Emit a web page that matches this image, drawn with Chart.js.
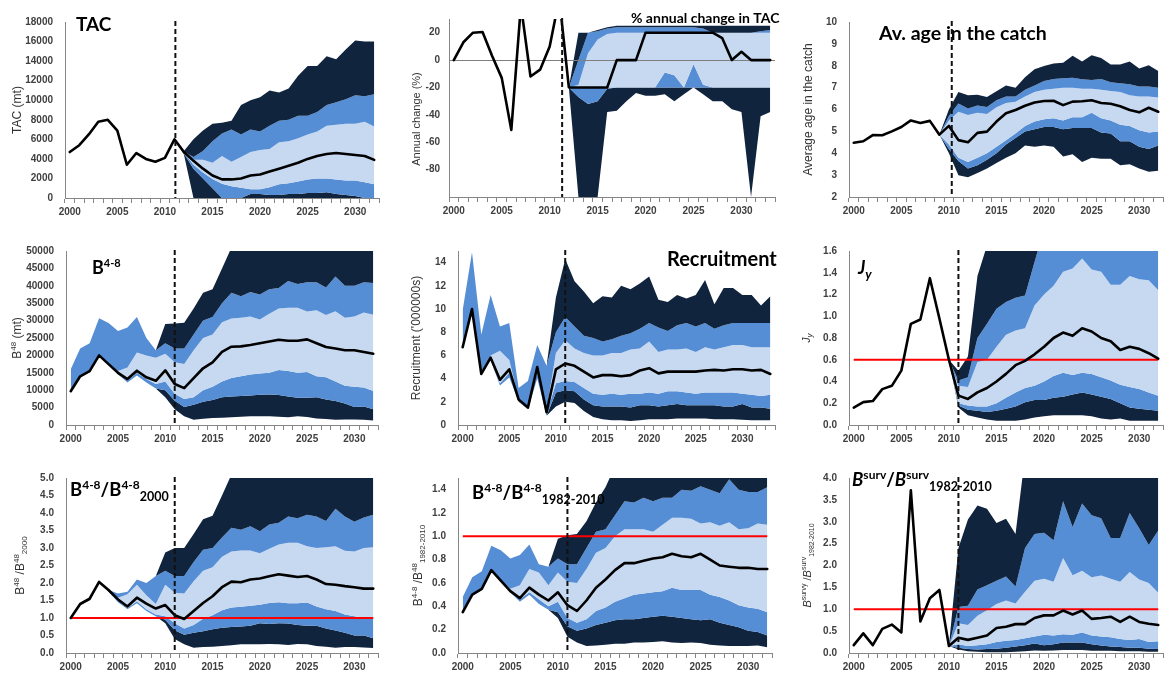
<!DOCTYPE html>
<html><head><meta charset="utf-8">
<script src="https://cdn.jsdelivr.net/npm/chart.js@4/dist/chart.umd.min.js"></script>
<style>
html,body{margin:0;padding:0;background:#fff;}
body{width:1165px;height:678px;position:relative;overflow:hidden;}
canvas{position:absolute;}
</style></head><body>
<script>
// ---------- categories ----------
const years33 = Array.from({length:33},(_,i)=>2000+i); // 2000-2032
const years34 = Array.from({length:34},(_,i)=>2000+i); // 2000-2033

// ---------- TAC ----------
const tacLine = [4700,5400,6500,7800,8000,6900,3400,4600,4000,3700,4100,6000,4700,3800,3000,2300,1900,1900,2000,2300,2400,2700,3000,3300,3600,4000,4300,4500,4600,4500,4400,4300,3900];
const tacStart = 2011;
const tacP95 = [6000,4800,6000,6900,7600,7700,7900,9500,10000,10300,11000,10800,11200,12500,13500,13500,14500,14200,15200,16100,16000,16000];
const tacP90 = [6000,4750,4200,4800,5800,6600,7000,6500,7000,6800,7400,7900,8000,8400,8400,8800,9500,9800,10100,10500,10400,10600];
const tacP75 = [6000,4720,3900,3900,3600,4300,3700,4200,4700,4900,5000,5700,5800,6100,6500,6800,7400,7500,7600,7600,7800,7300];
const tacP25 = [6000,4650,3400,2600,1950,1450,1200,1050,900,900,1100,1400,1500,1700,1900,2000,2000,1900,1800,1800,1600,1400];
const tacP10 = [6000,4550,3000,2000,1000,0,0,0,400,400,300,300,400,400,500,500,600,400,300,200,0,0];
const tacP5  = [6000,4450,0,0,0,0,0,0,0,0,0,0,0,0,0,0,0,0,0,0,0,0];
const tacTicks = [0,2000,4000,6000,8000,10000,12000,14000,16000,18000];

// ---------- % annual change in TAC ----------
const chgLine = [0,13,20,20.5,3,-13,-51,40,-12,-7,10,45,-20,-20,-20,-20,-20,0,0,0,20,20,20,20,20,20,20,20,16,0,6,0,0,0];
const chgStart = 2012;
const chgP95 = [-20,20,20,22,24,25,25,25,25,25,25,25,25,25,25,25,25,25,25,25,25,25];
const chgP90 = [-20,0,20,21,23,24,24,24,24,24,24,24,24,24,23,20,20,20,20,20,21,22];
const chgP75 = [-20,-18,5,15,19,20,20,20,20,20,20,20,20,20,20,20,20,20,20,20,20,20];
const chgP25 = [-20,-20,-20,-20,-20,-20,-20,-20,-20,-20,-9,-11,-20,-3,-18,-20,-20,-20,-20,-20,-20,-20];
const chgP10 = [-20,-27,-32,-30,-21,-20,-20,-20,-20,-20,-20,-20,-20,-20,-20,-20,-20,-20,-20,-20,-20,-20];
const chgP5  = [-20,-100,-100,-100,-38,-37,-30,-24,-26,-26,-25,-30,-25,-20,-25,-30,-30,-36,-38,-100,-41,-38];
const chgTicks = [-80,-60,-40,-20,0,20];

// ---------- Average age in the catch ----------
const ageLine = [4.48,4.55,4.83,4.82,5.0,5.2,5.5,5.38,5.48,4.85,5.25,4.6,4.5,4.93,4.99,5.45,5.83,5.98,6.17,6.32,6.39,6.4,6.2,6.36,6.38,6.42,6.3,6.26,6.15,5.98,5.87,6.08,5.9];
const ageStart = 2009;
const ageP95 = [4.85,6.0,6.8,6.65,6.68,6.57,6.83,7.1,7.0,7.47,7.84,7.99,8.1,8.14,8.46,8.2,8.48,8.36,8.06,8.06,8.2,7.87,8.02,7.76];
const ageP90 = [4.85,5.7,6.27,6.05,6.18,6.12,6.42,6.6,6.6,6.9,7.1,7.3,7.4,7.43,7.45,7.38,7.35,7.4,7.25,7.2,7.15,7.05,7.05,7.0];
const ageP75 = [4.85,5.5,5.9,5.75,5.85,5.8,6.1,6.3,6.35,6.6,6.8,6.9,6.95,7.0,7.0,6.95,6.95,6.9,6.85,6.8,6.65,6.6,6.6,6.55];
const ageP25 = [4.85,4.4,3.8,3.6,3.8,4.0,4.3,4.6,4.9,5.25,5.45,5.55,5.6,5.5,5.65,5.65,5.85,5.6,5.5,5.3,5.25,5.05,4.95,5.0];
const ageP10 = [4.85,4.2,3.65,3.3,3.45,3.7,4.0,4.4,4.7,5.0,5.1,5.2,5.2,5.1,5.15,5.15,5.15,4.95,4.9,4.55,4.55,4.3,4.2,4.35];
const ageP5  = [4.85,4.0,3.0,2.9,3.1,3.3,3.55,3.8,4.0,4.35,4.3,4.35,4.3,3.85,3.95,3.6,3.8,3.75,3.75,3.45,3.5,3.3,3.15,3.2];
const ageTicks = [2,3,4,5,6,7,8,9,10];

// ---------- B4-8 ----------
const bLine = [9700,14000,15500,20000,17500,15000,13200,15600,13700,12700,15700,11800,10600,13500,16300,18000,21000,22500,22600,23000,23500,24000,24500,24200,24200,24600,23500,22400,22000,21500,21500,21000,20500];
const bDarkStart = 2009;
const bP95 = [21500,29000,29200,29400,33500,38000,39000,45000,51000,51000,51000,51000,51000,51000,51000,51000,51000,51000,51000,51000,51000,51000,51000,51000];
const bP90 = [16000,22000,23500,30700,29300,27000,28000,31000,25000,21500,23500,22000,22000,26000,30000,31000,35000,38000,37000,38200,37500,39000,39400,41400,40500,41000,41000,39500,42700,40000,40000,41000,40800];
const bP75 = [9700,14000,15500,20000,17500,15500,16500,20800,20000,19300,20500,18000,17500,21500,25000,26000,29500,30600,30800,31200,30300,32000,33500,33700,33700,32600,33000,31600,32700,30800,31200,32300,31700];
const bP25 = [9700,14000,15500,20000,17500,14800,12800,15000,13200,11800,12500,9000,7500,8000,10000,11000,12500,13500,14000,14500,14800,15000,15800,15500,15000,15200,14000,13700,12500,11300,11000,10800,9800];
const bP10 = [9700,13800,15200,19800,17300,14600,12200,14200,12200,10500,10000,7000,5200,5800,6700,7200,8000,8200,8300,8500,8700,8800,8600,8200,7800,7800,8000,7300,6900,6200,5200,5300,4500];
const bP5  = [10500,8000,4500,2500,1500,1800,2000,2100,2200,2400,2500,2500,2500,2400,2200,2500,2300,1900,1700,1500,1600,1600,1500,1300];
const bTicks = [0,5000,10000,15000,20000,25000,30000,35000,40000,45000,50000];

// ---------- Recruitment ----------
const recLine = [6.7,10,4.4,5.8,3.9,4.8,2.2,1.5,5,1.1,4.8,5.3,5.1,4.6,4.1,4.3,4.3,4.2,4.3,4.7,4.9,4.45,4.6,4.6,4.6,4.6,4.7,4.75,4.7,4.8,4.8,4.7,4.75,4.4];
const recDarkStart = 2009;
const recP95 = [5.1,11,14.3,12.4,11.5,10.5,11.1,11,12,11.7,12.2,12.8,10.8,10.6,11.2,10.9,11.2,12.5,10.4,11.8,11.8,11.2,11.2,10.3,11.1];
const recP90 = [9.9,14.9,7.8,11.2,8.5,8.8,3.2,3.8,6.9,5.1,8,9.3,8.5,7.7,7.5,7.2,7.4,7.7,7.9,8.3,8.8,8.4,8.1,8.6,8.8,8.5,8.8,8.3,8.6,8.8,8.8,8.8,8.8,8.8];
const recP75 = [6.7,10,4.4,6.0,6.4,5.6,2.3,1.6,5.1,1.3,6.2,7.3,6.6,6.2,6.0,6.0,6.2,6.2,6.5,6.6,7.2,6.3,6.5,6.5,6.6,6.3,6.7,6.5,6.7,6.9,6.9,6.7,6.7,6.7];
const recP25 = [6.7,10,4.4,5.7,3.6,4.5,2.1,1.4,4.6,1.0,3.6,3.8,3.7,3.2,2.7,2.6,2.7,2.6,2.7,2.7,2.8,2.7,2.9,2.9,2.8,2.7,2.8,2.8,2.8,2.8,2.7,2.6,2.5,2.6];
const recP10 = [6.7,10,4.3,5.6,3.4,4.1,2.0,1.35,4.0,0.8,2.8,3.0,2.9,2.2,1.7,1.6,1.6,1.6,1.5,1.7,1.7,1.6,1.7,1.8,1.7,1.7,1.7,1.7,1.6,1.6,1.8,1.5,1.5,1.4];
const recP5  = [0.8,1.6,2.0,1.9,1.2,0.7,0.5,0.4,0.4,0.35,0.4,0.5,0.5,0.5,0.55,0.55,0.55,0.55,0.5,0.5,0.5,0.45,0.4,0.4,0.4];
const recTicks = [0,2,4,6,8,10,12,14];

// ---------- Jy ----------
const jyLine = [0.16,0.21,0.22,0.33,0.36,0.5,0.93,0.97,1.35,0.98,0.6,0.27,0.24,0.3,0.34,0.4,0.47,0.55,0.59,0.65,0.72,0.8,0.85,0.82,0.89,0.86,0.8,0.77,0.69,0.72,0.7,0.66,0.61];
const jyStart = 2010;
const jyP95 = [0.6,0.5,0.63,1.37,1.65,1.7,1.7,1.7,1.7,1.7,1.7,1.7,1.7,1.7,1.7,1.7,1.7,1.7,1.7,1.7,1.7,1.7,1.7];
const jyP90 = [0.6,0.41,0.44,0.8,0.93,1.07,1.13,1.17,1.19,1.5,1.8,1.7,1.7,1.7,1.7,1.7,1.7,1.7,1.7,1.7,1.7,1.7,1.7];
const jyP75 = [0.6,0.36,0.35,0.58,0.6,0.72,0.83,0.87,0.89,1.1,1.2,1.28,1.41,1.44,1.53,1.43,1.41,1.29,1.29,1.37,1.34,1.33,1.24];
const jyP25 = [0.6,0.2,0.18,0.17,0.17,0.2,0.25,0.3,0.34,0.36,0.4,0.45,0.48,0.46,0.48,0.47,0.44,0.41,0.37,0.35,0.33,0.3,0.27];
const jyP10 = [0.6,0.18,0.14,0.13,0.12,0.13,0.15,0.17,0.21,0.23,0.23,0.25,0.26,0.28,0.3,0.28,0.26,0.24,0.2,0.16,0.15,0.14,0.13];
const jyP5  = [0.6,0.16,0.09,0.07,0.05,0.04,0.04,0.04,0.05,0.07,0.08,0.09,0.09,0.09,0.09,0.08,0.06,0.05,0.06,0.04,0.04,0.04,0.04];
const jyRef = 0.6;
const jyTicks = [0,0.2,0.4,0.6,0.8,1.0,1.2,1.4,1.6];

// ---------- B4-8 / B4-8 2000 ----------
const r0Line = [1.0,1.4,1.55,2.03,1.8,1.53,1.33,1.58,1.41,1.27,1.37,1.08,0.97,1.2,1.43,1.62,1.88,2.04,2.02,2.1,2.13,2.19,2.25,2.21,2.17,2.2,2.1,1.97,1.95,1.91,1.88,1.84,1.84];
const r0DarkStart = 2009;
const r0P95 = [2.2,2.87,3.0,3.0,3.4,3.82,3.92,4.5,5.1,5.1,5.1,5.1,5.1,5.1,5.1,5.1,5.1,5.1,5.1,5.1,5.1,5.1,5.1,5.1];
const r0P90 = [1.0,1.42,1.58,2.03,1.8,1.7,1.75,2.1,2.0,2.2,2.35,2.2,2.2,2.6,2.95,3.0,3.3,3.58,3.52,3.62,3.48,3.67,3.72,3.9,3.85,3.95,3.9,3.77,4.12,3.9,3.75,3.87,3.95];
const r0P75 = [1.0,1.4,1.55,2.03,1.8,1.58,1.68,1.95,1.65,1.4,1.95,1.72,1.7,2.05,2.35,2.45,2.75,2.9,2.93,2.93,2.85,2.98,3.1,3.15,3.15,3.05,3.0,3.02,3.05,2.92,2.9,3.0,3.02];
const r0P25 = [1.0,1.4,1.55,2.03,1.8,1.5,1.28,1.48,1.25,1.1,1.05,0.85,0.7,0.8,0.98,1.08,1.22,1.3,1.32,1.35,1.38,1.43,1.45,1.42,1.42,1.44,1.33,1.25,1.2,1.1,1.05,1.0,0.97];
const r0P10 = [1.0,1.38,1.5,2.0,1.75,1.45,1.25,1.42,1.2,1.05,0.95,0.65,0.52,0.58,0.62,0.68,0.72,0.74,0.76,0.78,0.85,0.83,0.85,0.84,0.8,0.78,0.78,0.7,0.64,0.58,0.5,0.5,0.42];
const r0P5  = [1.05,0.85,0.4,0.25,0.15,0.17,0.18,0.2,0.22,0.25,0.25,0.25,0.26,0.25,0.23,0.26,0.25,0.2,0.18,0.15,0.17,0.17,0.16,0.14];
const r0Ref = 1.0;
const r0Ticks = [0,0.5,1.0,1.5,2.0,2.5,3.0,3.5,4.0,4.5,5.0];

// ---------- B4-8 / B4-8 1982-2010 ----------
const r1Line = [0.35,0.5,0.55,0.71,0.62,0.53,0.47,0.56,0.5,0.45,0.52,0.41,0.36,0.45,0.56,0.63,0.71,0.77,0.77,0.79,0.81,0.82,0.85,0.83,0.82,0.85,0.8,0.75,0.74,0.73,0.73,0.72,0.72];
const r1DarkStart = 2009;
const r1P95 = [0.74,0.98,1.01,1.02,1.13,1.29,1.42,1.6,1.6,1.6,1.6,1.6,1.6,1.6,1.6,1.6,1.6,1.6,1.6,1.6,1.6,1.6,1.6,1.6];
const r1P90 = [0.48,0.65,0.7,0.92,0.88,0.81,0.84,0.93,0.76,0.74,0.81,0.76,0.76,0.9,1.04,1.06,1.18,1.3,1.29,1.33,1.3,1.33,1.33,1.4,1.39,1.43,1.4,1.37,1.49,1.4,1.38,1.38,1.42];
const r1P75 = [0.35,0.5,0.55,0.71,0.62,0.55,0.58,0.72,0.69,0.58,0.69,0.61,0.6,0.72,0.86,0.9,1.0,1.06,1.06,1.06,1.04,1.1,1.16,1.16,1.15,1.11,1.12,1.09,1.12,1.06,1.07,1.11,1.1];
const r1P25 = [0.35,0.5,0.55,0.71,0.62,0.52,0.46,0.52,0.46,0.4,0.44,0.3,0.26,0.29,0.36,0.39,0.44,0.47,0.5,0.51,0.52,0.53,0.56,0.54,0.54,0.54,0.5,0.48,0.45,0.41,0.39,0.38,0.35];
const r1P10 = [0.35,0.49,0.54,0.7,0.61,0.52,0.44,0.5,0.42,0.37,0.35,0.23,0.19,0.21,0.24,0.26,0.28,0.29,0.29,0.3,0.31,0.32,0.31,0.3,0.29,0.28,0.29,0.26,0.24,0.22,0.19,0.18,0.15];
const r1P5  = [0.37,0.3,0.14,0.09,0.06,0.065,0.07,0.08,0.08,0.09,0.09,0.095,0.1,0.09,0.085,0.09,0.085,0.07,0.065,0.06,0.06,0.06,0.065,0.05];
const r1Ref = 1.0;
const r1Ticks = [0,0.2,0.4,0.6,0.8,1.0,1.2,1.4];

// ---------- Bsurv / Bsurv 1982-2010 ----------
const svLine = [0.18,0.45,0.18,0.55,0.65,0.47,3.72,0.72,1.25,1.44,0.16,0.35,0.3,0.35,0.4,0.57,0.6,0.66,0.66,0.8,0.86,0.86,0.97,0.88,0.97,0.78,0.8,0.83,0.71,0.83,0.71,0.67,0.64];
const svStart = 2010;
const svP95 = [0.16,2.4,3.05,3.37,3.3,2.97,3.07,2.72,4.5,4.5,4.5,4.5,4.5,4.5,4.5,4.5,4.5,4.5,4.5,4.5,4.5,4.5,4.5];
const svP90 = [0.16,1.05,1.08,1.45,1.55,1.65,1.75,1.52,2.4,2.72,2.75,2.58,3.47,2.88,3.42,3.15,3.08,2.63,2.63,3.2,2.85,2.47,2.8];
const svP75 = [0.16,0.68,0.64,0.85,0.98,1.12,1.2,1.13,1.4,1.65,1.7,1.63,2.17,1.78,1.88,1.73,1.77,1.7,1.63,1.85,1.68,1.6,1.38];
const svP25 = [0.16,0.2,0.16,0.18,0.2,0.25,0.28,0.3,0.34,0.38,0.42,0.4,0.43,0.42,0.47,0.4,0.38,0.36,0.32,0.3,0.32,0.25,0.27];
const svP10 = [0.16,0.12,0.09,0.08,0.09,0.1,0.12,0.15,0.18,0.22,0.18,0.2,0.24,0.24,0.24,0.2,0.17,0.15,0.14,0.12,0.12,0.1,0.09];
const svP5  = [0.16,0.08,0.04,0.03,0.02,0.02,0.02,0.03,0.04,0.06,0.05,0.06,0.07,0.07,0.07,0.05,0.05,0.05,0.04,0.04,0.04,0.03,0.03];
const svRef = 1.0;
const svTicks = [0,0.5,1.0,1.5,2.0,2.5,3.0,3.5,4.0];

// ---------- rendering ----------
const DARK = '#10243E', MED = '#558ED5', LIGHT = '#C6D9F1';
const PT = 14, PR = 12, XH = 24, YW = 72;
const TICKFONT = {family:'"Liberation Sans", Arial, sans-serif', size:10, weight:'bold'};
const AXFAM = '"Liberation Sans", Arial, sans-serif';
const TFAM = 'Lato, "Open Sans", sans-serif';

function alignTo(years, start, vals){ return years.map(y => (y < start ? null : (vals[y-start] === undefined ? null : vals[y-start]))); }

function fontOf(p, fam){ const f = p[3]||''; return (f.includes('i')?'italic ':'') + (f.includes('b')?'bold ':'') + p[1] + 'px ' + fam; }
function drawRich(ctx, parts, x, y, fam, center){
  let total = 0; const ws = [];
  parts.forEach(p => { ctx.font = fontOf(p, fam); const w = ctx.measureText(p[0]).width; ws.push(w); total += w; });
  let cx = center ? x - total/2 : x;
  parts.forEach((p,i) => { ctx.font = fontOf(p, fam); ctx.fillText(p[0], cx, y + (p[2]||0)); cx += ws[i]; });
}

function panel(cfg){
  const cv = document.createElement('canvas');
  const pw = cfg.R - cfg.L, ph = cfg.B - cfg.T;
  const W = YW + pw + PR, H = PT + ph + XH;
  cv.width = W; cv.height = H;
  cv.style.left = (cfg.L - YW) + 'px'; cv.style.top = (cfg.T - PT) + 'px';
  cv.style.width = W + 'px'; cv.style.height = H + 'px';
  document.body.appendChild(cv);
  const ds = [{data: cfg.line, borderColor:'#000', borderWidth:2.6, pointRadius:0, fill:false, borderJoinStyle:'round', borderCapStyle:'round'}];
  if (cfg.ref !== undefined) ds.push({data: cfg.years.map(() => cfg.ref), borderColor:'#FF0000', borderWidth:2, pointRadius:0, fill:false});
  const cols = [DARK, MED, LIGHT, MED, DARK];
  cfg.bands.forEach((b, i) => ds.push({data: b, borderWidth:0, borderColor:'transparent', pointRadius:0,
      fill: i < 5 ? '+1' : false, backgroundColor: i < 5 ? cols[i] : 'transparent'}));
  const deco = {
    id: 'deco' + cfg.id,
    beforeDatasetDraw(chart, args){
      if (args.index === 0 && cfg.zeroLine){
        const {ctx, chartArea:a} = chart; const y = Math.round(chart.scales.y.getPixelForValue(0)) + 0.5;
        ctx.save(); ctx.strokeStyle = '#7F7F7F'; ctx.lineWidth = 1;
        ctx.beginPath(); ctx.moveTo(a.left, y); ctx.lineTo(a.right, y); ctx.stroke(); ctx.restore();
      }
    },
    afterDatasetsDraw(chart){
      const {ctx, chartArea:a} = chart;
      ctx.save(); ctx.fillStyle = '#000'; ctx.textBaseline = 'alphabetic';
      drawRich(ctx, cfg.title, a.left + cfg.tx, a.top + cfg.ty, TFAM, false);
      ctx.restore();
      const xs = chart.scales.x;
      const x = xs.getPixelForValue(cfg.divider - cfg.years[0]);
      ctx.save(); ctx.strokeStyle = '#111'; ctx.lineWidth = 2; ctx.setLineDash([5,3]);
      ctx.beginPath(); ctx.moveTo(x, a.top - 1); ctx.lineTo(x, a.bottom); ctx.stroke(); ctx.restore();
    },
    afterDraw(chart){
      const {ctx, chartArea:a} = chart;
      ctx.save(); ctx.fillStyle = '#333'; ctx.textBaseline = 'alphabetic';
      ctx.translate(a.left - cfg.axOff, (a.top + a.bottom)/2 + (cfg.axDy||0));
      ctx.rotate(-Math.PI/2);
      drawRich(ctx, cfg.axTitle, 0, cfg.axTitle[0][1]*0.35, AXFAM, true);
      ctx.restore();
    }
  };
  new Chart(cv.getContext('2d'), {
    type:'line',
    data:{labels: cfg.years, datasets: ds},
    options:{
      responsive:false, animation:false, devicePixelRatio:1,
      layout:{padding:{left:0, top:PT, right:PR, bottom:0}},
      plugins:{legend:{display:false}, tooltip:{enabled:false}},
      elements:{line:{tension:0}, point:{radius:0}},
      scales:{
        x:{type:'category', offset:true,
           grid:{display:true, drawOnChartArea:false, drawTicks:true, tickLength:5, offset:true, color:'#868686'},
           border:{display:true, color:'#868686', width:1},
           ticks:{autoSkip:false, maxRotation:0, minRotation:0, padding:3, font:TICKFONT, color:'#404040',
                  callback:(v,i) => (cfg.years[i] % 5 === 0 ? String(cfg.years[i]) : '')},
           afterFit: s => { s.height = XH; }},
        y:{type:'linear', min: cfg.min, max: cfg.max,
           grid:{display:false, drawTicks:false},
           border:{display:true, color:'#868686', width:1},
           ticks:{padding: cfg.yPad || 12, font:TICKFONT, color:'#404040', callback: v => cfg.fmt(v)},
           afterBuildTicks: s => { s.ticks = cfg.ticks.map(v => ({value:v})); },
           afterFit: s => { s.width = YW; }}
      }
    },
    plugins:[deco]
  });
}

const int = v => String(Math.round(v));
const dec1 = v => v.toFixed(1);

panel({id:1, L:65, R:379, T:18, B:198, years:years33, line:tacLine, min:0, max:18000, ticks:tacTicks, fmt:int,
  bands:[tacP95,tacP90,tacP75,tacP25,tacP10,tacP5].map(b => alignTo(years33, tacStart, b)), divider:2011.1,
  title:[['TAC',19,0,'b']], tx:11, ty:9,
  axTitle:[['TAC (mt)',12]], axOff:48});

panel({id:2, L:449, R:775, T:18, B:197, years:years34, line:chgLine, min:-100, max:30, ticks:chgTicks, fmt:int, yPad:9, zeroLine:true,
  bands:[chgP95,chgP90,chgP75,chgP25,chgP10,chgP5].map(b => alignTo(years34, chgStart, b)), divider:2011.3,
  title:[['% annual change in TAC',14,0,'b']], tx:182, ty:4,
  axTitle:[['Annual change (%)',11]], axOff:33, axDy:11});

panel({id:3, L:849, R:1163, T:18, B:197, years:years33, line:ageLine, min:2, max:10, ticks:ageTicks, fmt:int,
  bands:[ageP95,ageP90,ageP75,ageP25,ageP10,ageP5].map(b => alignTo(years33, ageStart, b)), divider:2010.3,
  title:[['Av. age in the catch',19.5,0,'b']], tx:30, ty:18,
  axTitle:[['Average age in the catch',12]], axOff:41});

panel({id:4, L:66, R:378, T:247, B:425, years:years33, line:bLine, min:0, max:50000, ticks:bTicks, fmt:int,
  bands:[alignTo(years33,bDarkStart,bP95), bP90, bP75, bP25, bP10, alignTo(years33,bDarkStart,bP5)], divider:2011,
  title:[['B',18,0,'b'],['4-8',11,-7,'b']], tx:26, ty:23,
  axTitle:[['B',12],['48',8,-5],[' (mt)',12]], axOff:49});

panel({id:5, L:458, R:775, T:247, B:425, years:years34, line:recLine, min:0, max:15, ticks:recTicks, fmt:int,
  bands:[alignTo(years34,recDarkStart,recP95), recP90, recP75, recP25, recP10, alignTo(years34,recDarkStart,recP5)], divider:2011,
  title:[['Recruitment',20,0,'b']], tx:209, ty:15,
  axTitle:[["Recruitment ('000000s)",12]], axOff:42});

panel({id:6, L:849, R:1163, T:247, B:425, years:years33, line:jyLine, min:0, max:1.6, ticks:jyTicks, fmt:dec1, ref:jyRef,
  bands:[jyP95,jyP90,jyP75,jyP25,jyP10,jyP5].map(b => alignTo(years33, jyStart, b)), divider:2011,
  title:[['J',18,0,'bi'],['y',13,5,'bi']], tx:9, ty:23,
  axTitle:[['J',10,0,'i'],['y',8,2,'i']], axOff:43});

panel({id:7, L:66, R:378, T:474, B:653, years:years33, line:r0Line, min:0, max:5, ticks:r0Ticks, fmt:dec1, ref:r0Ref,
  bands:[alignTo(years33,r0DarkStart,r0P95), r0P90, r0P75, r0P25, r0P10, alignTo(years33,r0DarkStart,r0P5)], divider:2011,
  title:[['B',18.5,0,'b'],['4-8',12,-7,'b'],['/B',18.5,0,'b'],['4-8',12,-7,'b'],['2000',12.5,5,'b']], tx:4, ty:18,
  axTitle:[['B',12],['48',8,-5],[' /B',12],['48',8,-5],['2000',8,3]], axOff:46});

panel({id:8, L:458, R:772, T:474, B:653, years:years33, line:r1Line, min:0, max:1.5, ticks:r1Ticks, fmt:dec1, ref:r1Ref,
  bands:[alignTo(years33,r1DarkStart,r1P95), r1P90, r1P75, r1P25, r1P10, alignTo(years33,r1DarkStart,r1P5)], divider:2011,
  title:[['B',18.5,0,'b'],['4-8',12,-7,'b'],['/B',18.5,0,'b'],['4-8',12,-7,'b'],['1982-2010',12.5,5,'b']], tx:14, ty:21,
  axTitle:[['B',12],['4-8',8,-5],[' /B',12],['48',8,-5],['1982-2010',8,3]], axOff:40});

panel({id:9, L:849, R:1163, T:474, B:653, years:years33, line:svLine, min:0, max:4, ticks:svTicks, fmt:dec1, ref:svRef,
  bands:[svP95,svP90,svP75,svP25,svP10,svP5].map(b => alignTo(years33, svStart, b)), divider:2011,
  title:[['B',18.5,0,'bi'],['surv',12,-7,'b'],['/',18.5,0,'b'],['B',18.5,0,'bi'],['surv',12,-7,'b'],['1982-2010',12.5,5,'b']], tx:3, ty:8,
  axTitle:[['B',11,0,'i'],['survy',7,-5],[' /',11],['B',11,0,'i'],['surv',7,-5],['1982-2010',7,3]], axOff:42});
</script>
</body></html>
